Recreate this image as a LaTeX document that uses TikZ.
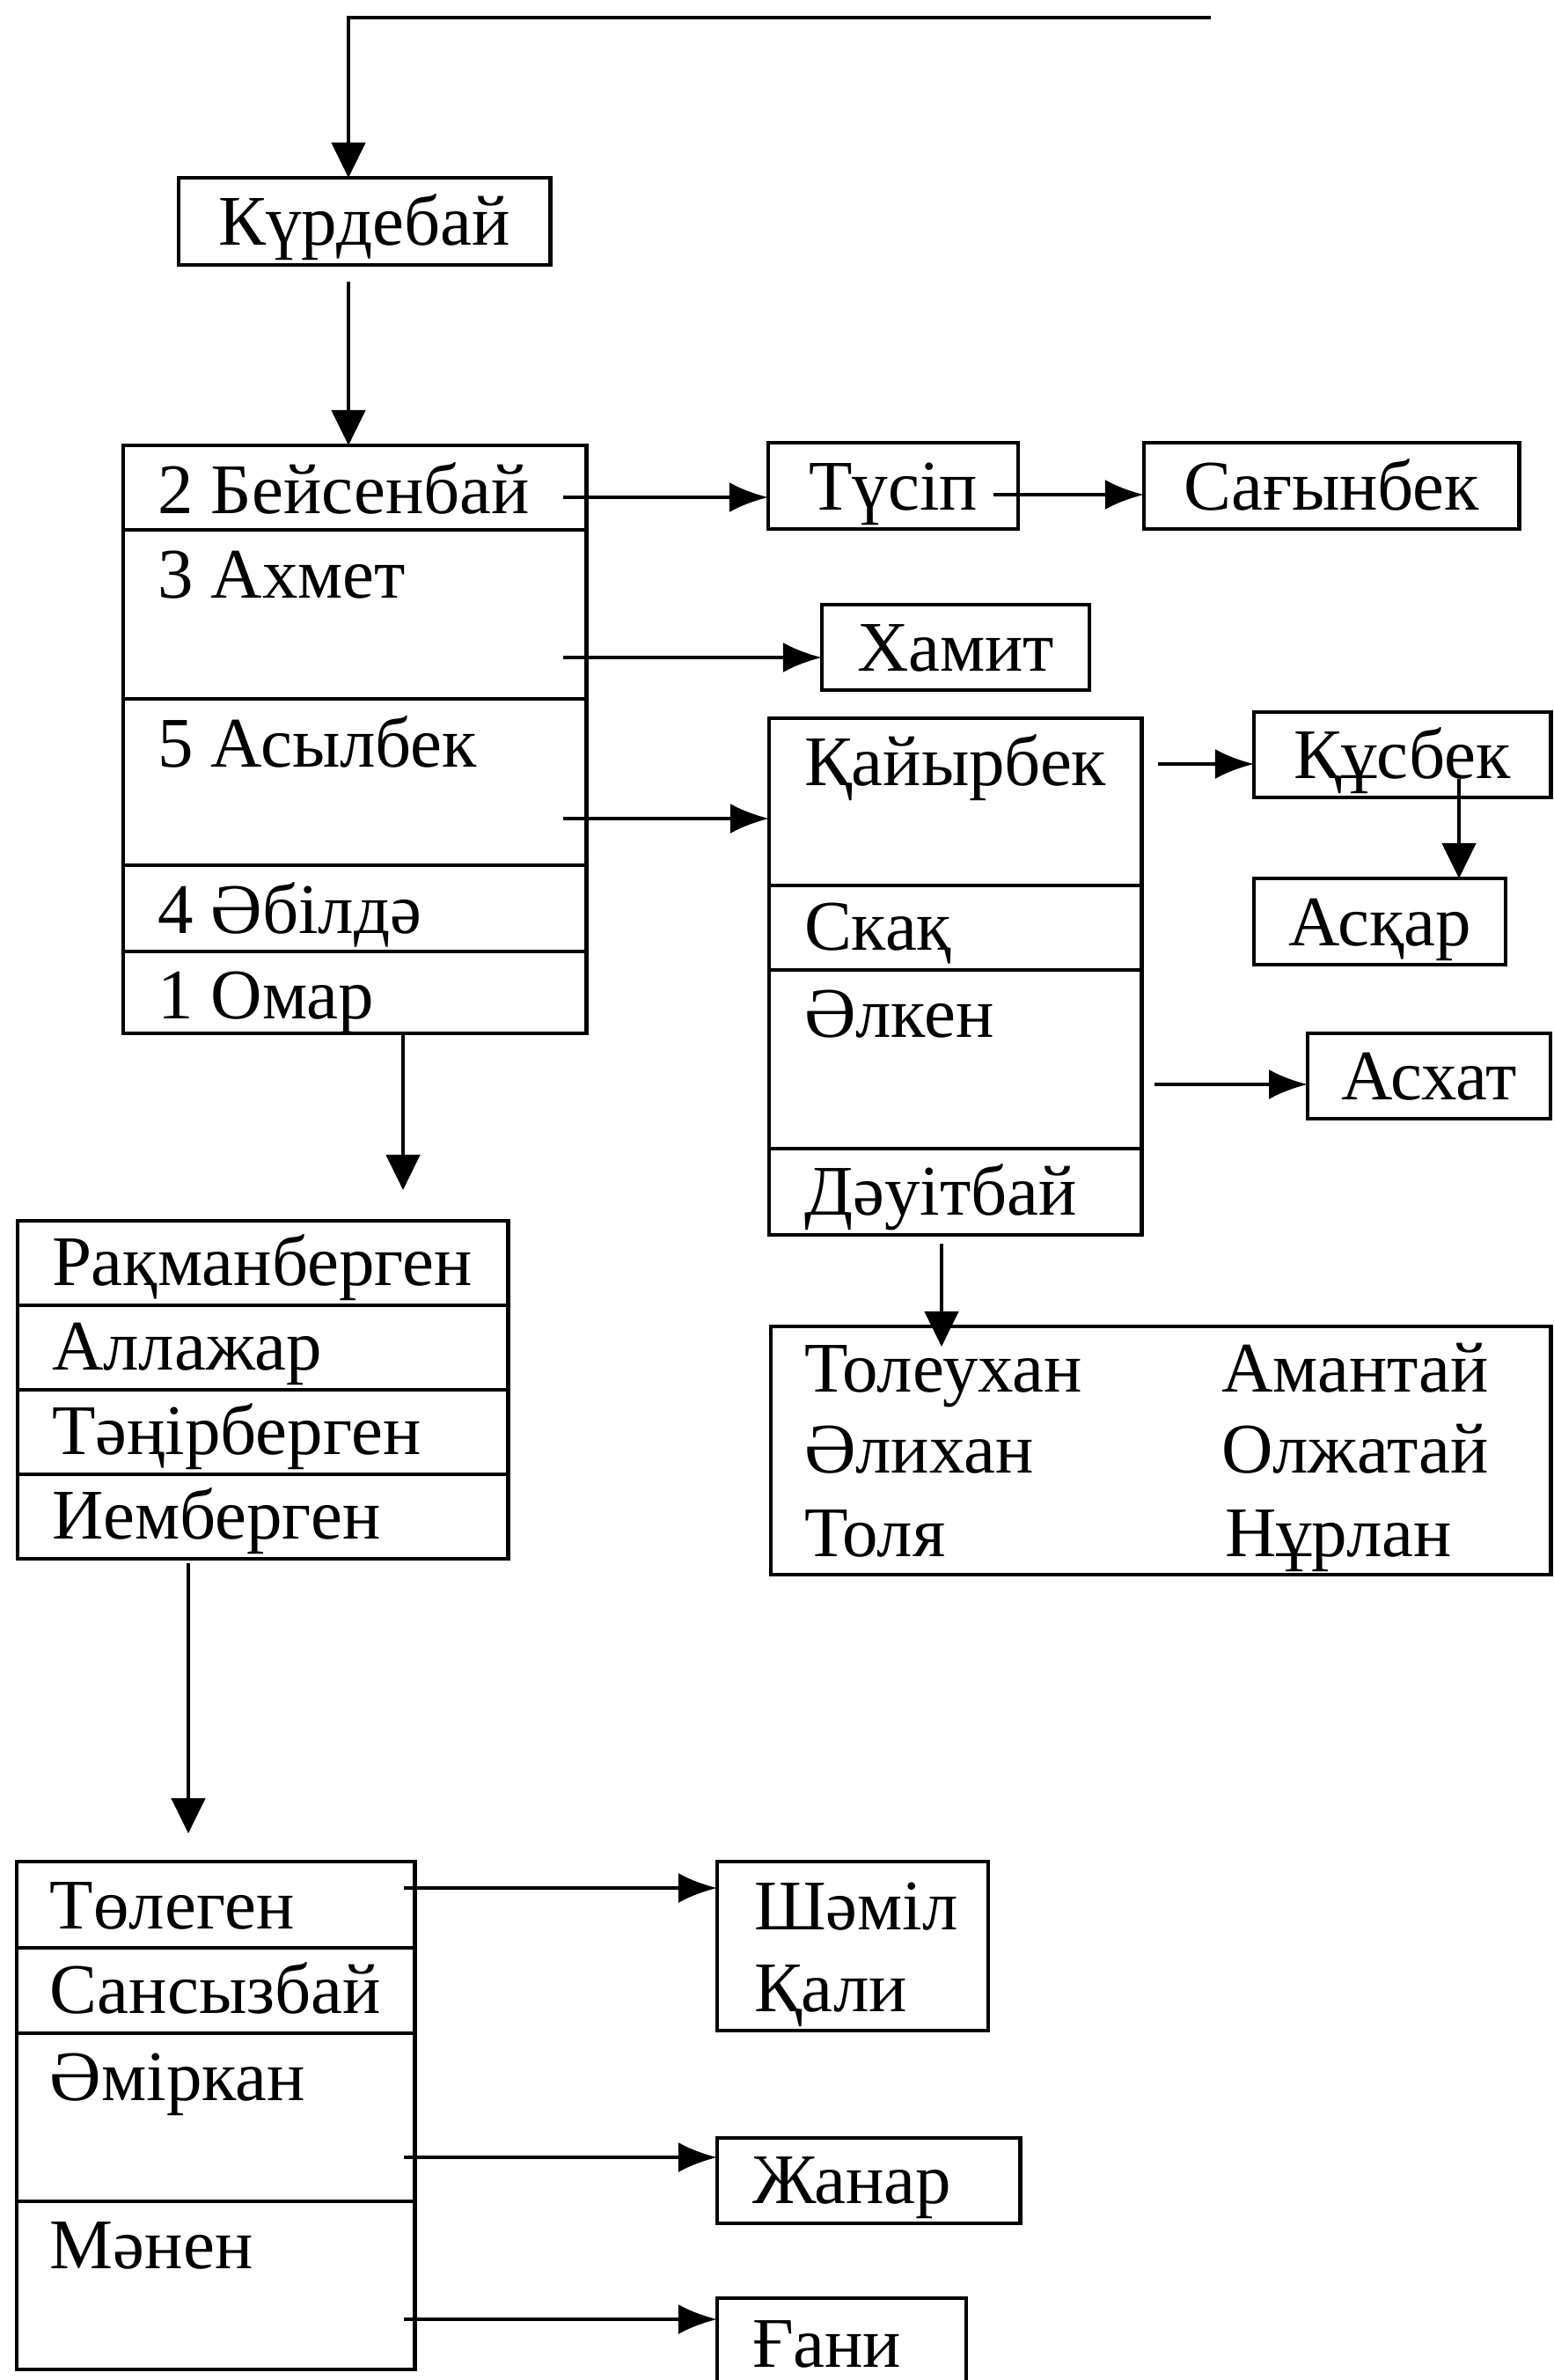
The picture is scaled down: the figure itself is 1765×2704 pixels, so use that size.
\documentclass[tikz,border=0pt]{standalone}
\usepackage{fontspec}
\setmainfont{Liberation Serif}
\usetikzlibrary{arrows.meta,calc}
\tikzset{
  box/.style={draw, line width=1.3pt, inner sep=0pt, outer sep=0pt, anchor=north west},
  cbox/.style={box, text height=0.54cm, text depth=0pt},
  lbl/.style={anchor=base west, inner sep=0pt, outer sep=0pt},
  harr/.style={line width=1.3pt, -{Latex[length=0.44cm,width=0.34cm]}},
  varr/.style={line width=1.3pt, -{Triangle[length=0.4cm,width=0.38cm]}},
}
\begin{document}
\begin{tikzpicture}[x=0.01cm, y=-0.01cm, font=\fontsize{23}{28}\selectfont]
\fill[white] (0,0) rectangle (1765,2704);
\useasboundingbox (0,0) rectangle (1765,2704);

% top box
\node[cbox, minimum width=4.22cm, minimum height=0.99cm] (kurd) at (203,202) {Күрдебай};
\coordinate (topend) at (1376,20);

% left big box
\node[box, minimum width=5.26cm, minimum height=0.96cm] (b2) at (140,506) {};
\node[box, minimum width=5.26cm, minimum height=1.92cm] (b3) at (140,602) {};
\node[box, minimum width=5.26cm, minimum height=1.89cm] (b5) at (140,794) {};
\node[box, minimum width=5.26cm, minimum height=0.98cm] (b4) at (140,983) {};
\node[box, minimum width=5.26cm, minimum height=0.93cm] (b1) at (140,1081) {};
\node[lbl] (b2t) at ($(b2.north west)+(39,78)$) {2 Бейсенбай};
\node[lbl] (b3t) at ($(b3.north west)+(39,78)$) {3 Ахмет};
\node[lbl] (b5t) at ($(b5.north west)+(39,77)$) {5 Асылбек};
\node[lbl] (b4t) at ($(b4.north west)+(39,77)$) {4 Әбілдә};
\node[lbl] (b1t) at ($(b1.north west)+(39,76)$) {1 Омар};

% right boxes upper
\node[cbox, minimum width=2.84cm, minimum height=0.98cm] (tusip) at (873,503) {Түсіп};
\node[cbox, minimum width=4.26cm, minimum height=0.98cm] (sagyn) at (1300,503) {Сағынбек};
\node[cbox, minimum width=3.04cm, minimum height=0.97cm] (hamit) at (934,687) {Хамит};

% Kaiyrbek box
\node[box, minimum width=4.23cm, minimum height=1.90cm] (k1) at (874,816) {};
\node[box, minimum width=4.23cm, minimum height=0.96cm] (k2) at (874,1006) {};
\node[box, minimum width=4.23cm, minimum height=2.03cm] (k3) at (874,1102) {};
\node[box, minimum width=4.23cm, minimum height=0.98cm] (k4) at (874,1305) {};
\node[lbl] (k1t) at ($(k1.north west)+(40,76)$) {Қайырбек};
\node[lbl] (k2t) at ($(k2.north west)+(40,73)$) {Скақ};
\node[lbl] (k3t) at ($(k3.north west)+(40,76)$) {Әлкен};
\node[lbl] (k4t) at ($(k4.north west)+(40,75)$) {Дәуітбай};

\node[cbox, minimum width=3.37cm, minimum height=0.97cm] (kusbek) at (1425,809) {Құсбек};
\node[cbox, minimum width=2.86cm, minimum height=0.98cm] (askar) at (1425,998) {Асқар};
\node[cbox, minimum width=2.76cm, minimum height=0.97cm] (askhat) at (1486,1174) {Асхат};

% names box
\node[box, minimum width=8.86cm, minimum height=2.82cm] (names) at (876,1507) {};
\node[lbl] (n1) at (914,1581) {Толеухан};
\node[lbl] (n2) at (1388,1581) {Амантай};
\node[lbl] (n3) at (914,1673) {Әлихан};
\node[lbl] (n4) at (1388,1673) {Олжатай};
\node[lbl] (n5) at (914,1768) {Толя};
\node[lbl] (n6) at (1392,1768) {Нұрлан};

% list box
\node[box, minimum width=5.57cm, minimum height=0.96cm] (r1) at (20,1387) {};
\node[box, minimum width=5.57cm, minimum height=0.96cm] (r2) at (20,1483) {};
\node[box, minimum width=5.57cm, minimum height=0.96cm] (r3) at (20,1579) {};
\node[box, minimum width=5.57cm, minimum height=0.96cm] (r4) at (20,1675) {};
\node[lbl] (r1t) at ($(r1.north west)+(39,73)$) {Рақманберген};
\node[lbl] (r2t) at ($(r2.north west)+(39,73)$) {Аллажар};
\node[lbl] (r3t) at ($(r3.north west)+(39,73)$) {Тәңірберген};
\node[lbl] (r4t) at ($(r4.north west)+(39,73)$) {Иемберген};

% bottom box
\node[box, minimum width=4.52cm, minimum height=0.98cm] (t1) at (19,2115) {};
\node[box, minimum width=4.52cm, minimum height=0.97cm] (t2) at (19,2213) {};
\node[box, minimum width=4.52cm, minimum height=1.91cm] (t3) at (19,2310) {};
\node[box, minimum width=4.52cm, minimum height=1.91cm] (t4) at (19,2501) {};
\node[lbl] (t1t) at ($(t1.north west)+(38,76)$) {Төлеген};
\node[lbl] (t2t) at ($(t2.north west)+(38,74)$) {Сансызбай};
\node[lbl] (t3t) at ($(t3.north west)+(38,76)$) {Әміркан};
\node[lbl] (t4t) at ($(t4.north west)+(38,76)$) {Мәнен};

\node[box, minimum width=3.08cm, minimum height=1.92cm] (shamil) at (815,2115) {};
\node[lbl] (shamilt) at ($(shamil.north west)+(42,77)$) {Шәміл};
\node[lbl] (kalit) at ($(shamil.north west)+(42,170)$) {Қали};
\node[box, minimum width=3.44cm, minimum height=0.97cm] (zhanar) at (815,2429) {};
\node[lbl] (zhanart) at ($(zhanar.north west)+(40,74)$) {Жанар};
\node[box, minimum width=2.83cm, minimum height=1.10cm] (gani) at (815,2611) {};
\node[lbl] (ganit) at ($(gani.north west)+(40,78)$) {Ғани};

% connectors
\draw[varr] (topend) -| ($(kurd.north west)+(193,0)$);
\draw[varr] ($(kurd.south west)+(193,19)$) -- ($(b2.north west)+(256,0)$);
\draw[harr] ($(b2.north east)+(-26,59)$) -- ($(tusip.north west)+(0,62)$);
\draw[harr] ($(tusip.north east)+(-28,59)$) -- ($(sagyn.north west)+(0,59)$);
\draw[harr] ($(b3.north east)+(-26,145)$) -- ($(hamit.north west)+(0,60)$);
\draw[harr] ($(b5.north east)+(-26,136)$) -- ($(k1.north west)+(0,114)$);
\draw[harr] ($(k1.north east)+(19,52)$) -- ($(kusbek.north west)+(0,59)$);
\draw[varr] ($(kusbek.north west)+(233,76)$) -- ($(askar.north west)+(233,0)$);
\draw[harr] ($(k3.north east)+(15,130)$) -- ($(askhat.north west)+(0,58)$);
\draw[varr] ($(b1.south west)+(318,0)$) -- ($(r1.north west)+(438,-35)$);
\draw[varr] ($(k4.south west)+(196,10)$) -- ($(names.north west)+(194,23)$);
\draw[varr] ($(r4.south west)+(194,5)$) -- ($(t1.north west)+(195,-32)$);
\draw[harr] ($(t1.north east)+(-12,30)$) -- ($(shamil.north west)+(0,30)$);
\draw[harr] ($(t3.north east)+(-12,141)$) -- ($(zhanar.north west)+(0,22)$);
\draw[harr] ($(t4.north east)+(-12,134)$) -- ($(gani.north west)+(0,24)$);
\end{tikzpicture}
\end{document}
